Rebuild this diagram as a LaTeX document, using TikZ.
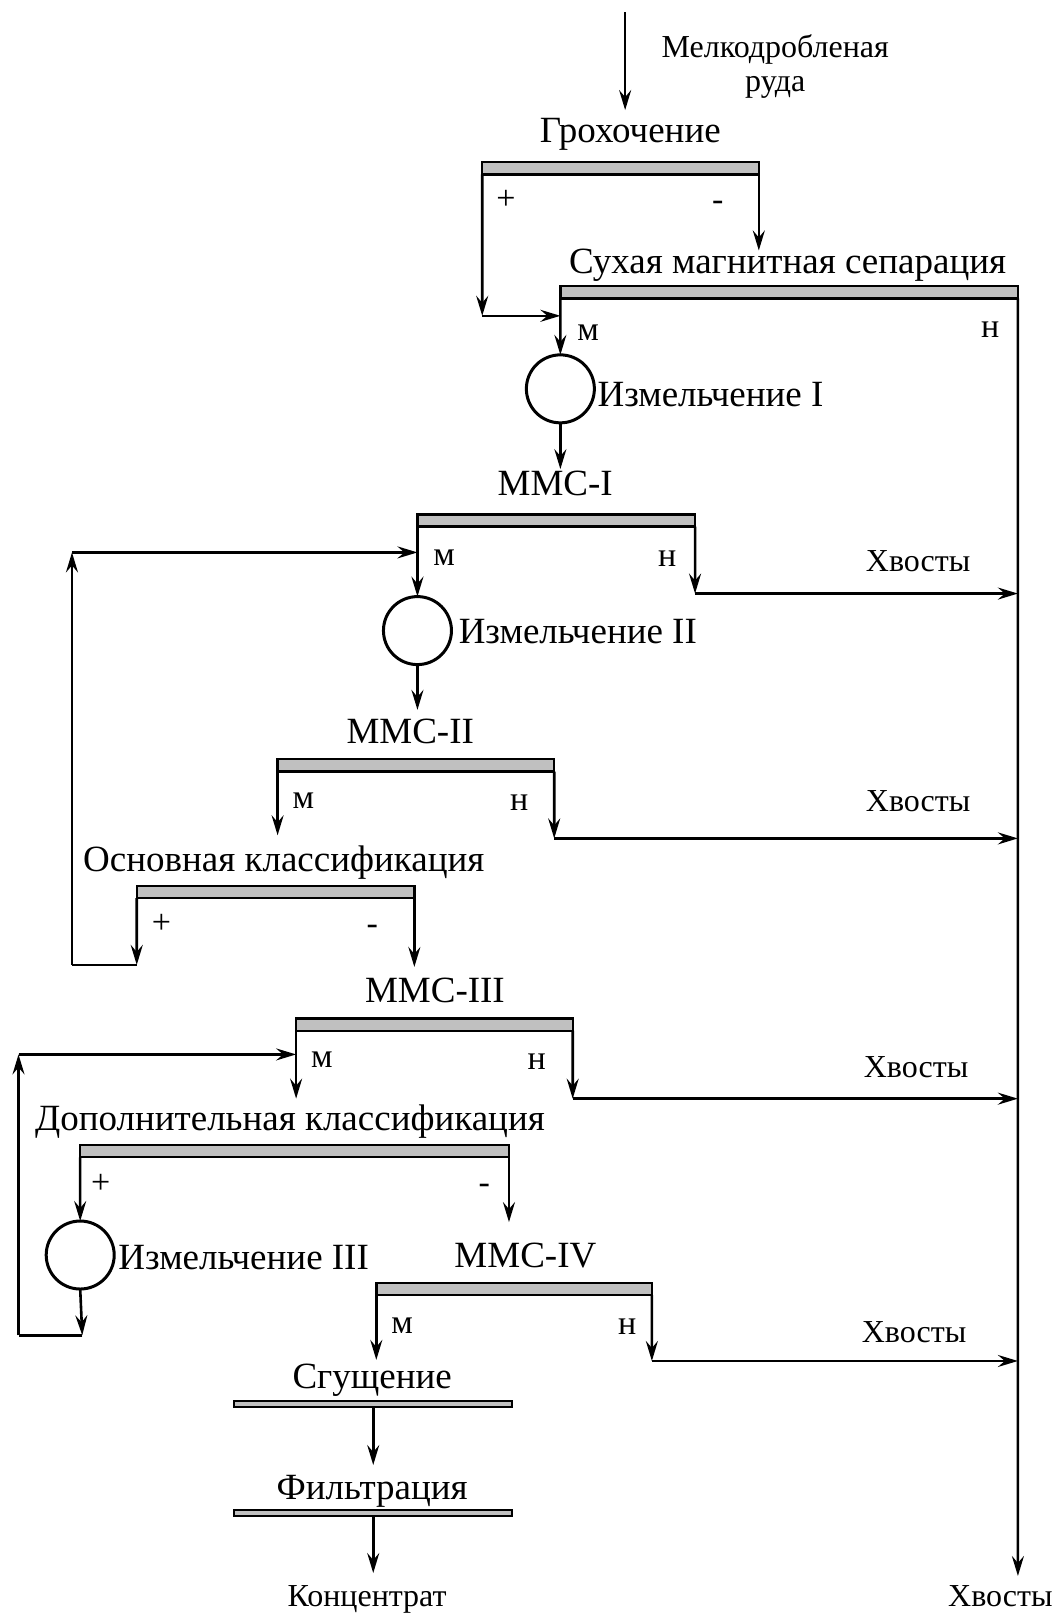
\documentclass[tikz,border=0pt]{standalone}
\usepackage{fontspec}
\setmainfont{Liberation Serif}
\usetikzlibrary{arrows.meta}
\definecolor{barg}{RGB}{192,192,192}
\begin{document}
\begin{tikzpicture}[x=1.0282pt,y=-1.0287pt,
  flow/.style={line width=2.6pt,-{Stealth[length=20pt,width=12pt,inset=7pt]}},
  pipe/.style={line width=2.6pt},
  bar/.style={draw,line width=2.4pt,fill=barg,inner sep=0,outer sep=0,minimum height=12.3pt},
  thinbar/.style={bar,line width=2pt,minimum height=6.5pt},
  big/.style={font=\fontsize{37}{40}\selectfont,inner sep=0,anchor=base},
  mid/.style={font=\fontsize{32}{34}\selectfont,inner sep=0,anchor=base},
  sm/.style={font=\fontsize{34}{36}\selectfont,inner sep=0,anchor=base},
  mill/.style={circle,draw,line width=3pt,minimum size=68pt,inner sep=0,outer sep=0}]
\useasboundingbox (0,0) rectangle (1028,1568);

% ---------- bars ----------
\node[bar,minimum width=276.6pt] (b1) at (603.5,163.5) {};
\node[bar,minimum width=457.5pt] (b2) at (767.5,284) {};
\node[bar,minimum width=277.6pt] (b3) at (541,506) {};
\node[bar,minimum width=276.6pt] (b4) at (404.5,744) {};
\node[bar,minimum width=277.6pt] (b5) at (268,867) {};
\node[bar,minimum width=276.6pt] (b6) at (422.5,996) {};
\node[bar,minimum width=428.8pt] (b7) at (286.5,1119) {};
\node[bar,minimum width=275.6pt] (b8) at (500,1253) {};
\node[thinbar,minimum width=277.6pt] (b9) at (363,1365) {};
\node[thinbar,minimum width=277.6pt] (b10) at (363,1471) {};

% ---------- mills ----------
\node[mill] (m1) at (545,378) {};
\node[mill] (m2) at (406,613) {};
\node[mill] (m3) at (78,1220) {};

% ---------- texts ----------
\node[mid] (feedA) at (754,56) {Мелкодробленая};
\node[mid] (feedB) at (754,89) {руда};
\node[big] (t1) at (613,139) {Грохочение};
\node[big] (t2) at (766,266) {Сухая магнитная сепарация};
\node[big] (t3) at (540,482) {ММС-I};
\node[big] (t4) at (399,723) {ММС-II};
\node[big] (t5) at (276,847) {Основная классификация};
\node[big] (t6) at (423,975) {ММС-III};
\node[big] (t7) at (282,1099) {Дополнительная классификация};
\node[big] (t8) at (511,1232) {ММС-IV};
\node[big] (t9) at (362,1350) {Сгущение};
\node[big] (t10) at (362,1458) {Фильтрация};
\node[big,anchor=base west] (im1) at (581,395) {Измельчение I};
\node[big,anchor=base west] (im2) at (446,626) {Измельчение II};
\node[big,anchor=base west] (im3) at (115,1234) {Измельчение III};

\node[sm] (p1) at (492,204) {+};
\node[sm] (n1) at (698,205) {-};
\node[sm] (p2) at (157,907) {+};
\node[sm] (n2) at (362,908) {-};
\node[sm] (p3) at (98,1160) {+};
\node[sm] (n3) at (471,1160) {-};

\node[sm] (ma) at (572,331) {м};
\node[sm] (na) at (963,328) {н};
\node[sm] (mb) at (432,550) {м};
\node[sm] (nb) at (649,551) {н};
\node[sm] (mc) at (295,786) {м};
\node[sm] (nc) at (505,788) {н};
\node[sm] (md) at (313,1038) {м};
\node[sm] (nd) at (522,1040) {н};
\node[sm] (me) at (391,1296) {м};
\node[sm] (ne) at (610,1297) {н};

\node[mid] (x1) at (893,556) {Хвосты};
\node[mid] (x2) at (893,789) {Хвосты};
\node[mid] (x3) at (891,1047) {Хвосты};
\node[mid] (x4) at (889,1305) {Хвосты};
\node[mid] (x5) at (973,1562) {Хвосты};
\node[mid] (conc) at (357,1562) {Концентрат};

% ---------- coordinates ----------
\coordinate (in) at (608,12);
\coordinate (g1) at (469,307);
\coordinate (c3) at (676,577);
\coordinate (c4) at (539,815);
\coordinate (c6) at (557,1068);
\coordinate (c8) at (634,1323);
\coordinate (r1a) at (133,938);
\coordinate (r1b) at (70,938);
\coordinate (r1c) at (70,537);
\coordinate (r2a) at (80,1298);
\coordinate (r2b) at (18,1298);
\coordinate (r2c) at (18,1025);
\coordinate (tailend) at (990,1532);

% ---------- connectors ----------
\draw[flow] (in) -- (608,107);
\draw[flow] (b1.south west) -- (g1);
\draw[flow] (g1) -- (g1 -| b2.west);
\draw[flow] (b1.south east) -- ++(0,74);
\draw[flow] (b2.south west) -- (m1.north);
\draw[flow] (m1.south) -- ++(0,45);
\draw[flow] (b2.south east) -- (tailend);

\draw[flow] (b3.south west) -- (m2.north);
\draw[flow] (b3.south east) -- (c3);
\draw[flow] (c3) -- (c3 -| b2.east);
\draw[flow] (m2.south) -- ++(0,44);

\draw[flow] (b4.south west) -- ++(0,62);
\draw[flow] (b4.south east) -- (c4);
\draw[flow] (c4) -- (c4 -| b2.east);

\draw[flow] (b5.south west) -- (r1a);
\draw[pipe] (r1a) -- (r1b);
\draw[flow] (r1b) -- (r1c);
\draw[flow] (r1c) -- (r1c -| b3.west);
\draw[flow] (b5.south east) -- ++(0,67);

\draw[flow] (b6.south west) -- ++(0,66);
\draw[flow] (b6.south east) -- (c6);
\draw[flow] (c6) -- (c6 -| b2.east);

\draw[flow] (b7.south west) -- (m3.north);
\draw[flow] (b7.south east) -- ++(0,63);
\draw[flow] (m3.south) -- (r2a);
\draw[pipe] (r2a) -- (r2b);
\draw[flow] (r2b) -- (r2c);
\draw[flow] (r2c) -- (r2c -| b6.west);

\draw[flow] (b8.south west) -- ++(0,63);
\draw[flow] (b8.south east) -- (c8);
\draw[flow] (c8) -- (c8 -| b2.east);

\draw[flow] (b9.south) -- ++(0,56);
\draw[flow] (b10.south) -- ++(0,55);
\end{tikzpicture}
\end{document}
